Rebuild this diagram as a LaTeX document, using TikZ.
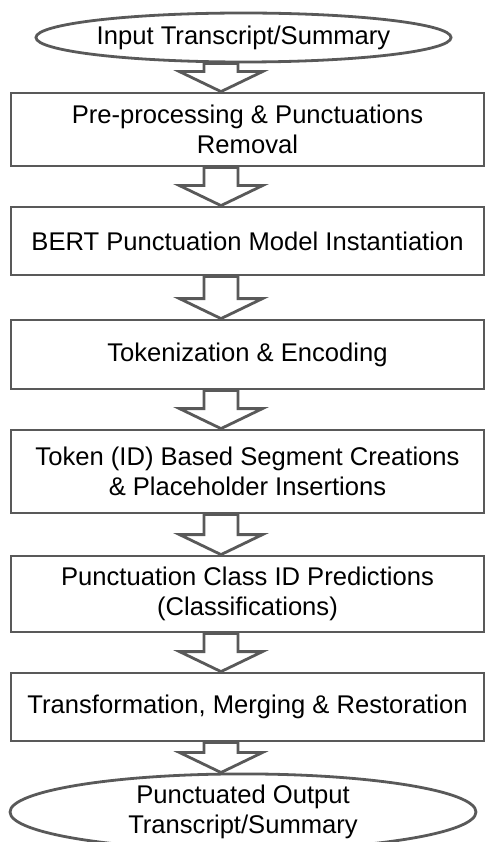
\documentclass[tikz,border=0pt]{standalone}
\usepackage{fontspec}
\setmainfont{Liberation Sans}
\usepackage{xcolor}
\usepackage{tikz}
\usetikzlibrary{
	shapes.geometric, calc
}
\definecolor{edgegray}{RGB}{89,89,89}

\begin{document}
\begin{tikzpicture}[
		x = 1pt, y = -1pt,
		font = \fontsize{25.6}{30}\selectfont,
		process step/.style={
			rectangle, draw = edgegray, line width = 2.8pt, fill = white,
			minimum width = 473pt, inner sep = 0pt, align = center
		},
		terminal/.style={
			ellipse, draw = edgegray, line width = 2.8pt, fill = white,
			inner sep = 0pt, align = center
		},
		block arrow/.style={
			draw = edgegray, line width = 2.8pt, fill = white, line join = miter
		},
	]
	\useasboundingbox (0, 0) rectangle (485, 842);

	\node[terminal, minimum width = 391pt, minimum height = 49pt] (input) at (243.5, 37.5) {Input Transcript/Summary};
	\node[process step, minimum height = 73pt] (prep) at (247.5, 129.5) {Pre-processing \& Punctuations\\Removal};
	\node[process step, minimum height = 68pt] (bert) at (247.5, 241) {BERT Punctuation Model Instantiation};
	\node[process step, minimum height = 69pt] (tokens) at (247.5, 354.5) {Tokenization \& Encoding};
	\node[process step, minimum height = 83pt] (segments) at (247.5, 471.5) {Token (ID) Based Segment Creations\\\& Placeholder Insertions};
	\node[process step, minimum height = 76pt] (predict) at (247.5, 594) {Punctuation Class ID Predictions\\(Classifications)};
	\node[process step, minimum height = 68pt] (restore) at (247.5, 707) {Transformation, Merging \& Restoration};
	\node[terminal, minimum width = 466pt, minimum height = 70pt] (output) at (243, 812) {Punctuated Output\\Transcript/Summary};

	% hollow arrows, all on the same axis (not the boxes' centre)
	\foreach \from/\to in {input/prep, prep/bert, bert/tokens, tokens/segments, segments/predict, predict/restore, restore/output} {
		\draw[block arrow] let \p1 = (\from.south), \p2 = (\to.north) in
			(221pt-17pt, \y1) -- (221pt-17pt, \y2+20pt) -- (221pt-41.5pt, \y2+20pt)
			-- (221pt, \y2) -- (221pt+41.5pt, \y2+20pt) -- (221pt+17pt, \y2+20pt)
			-- (221pt+17pt, \y1) -- cycle;
	}
\end{tikzpicture}
\end{document}
